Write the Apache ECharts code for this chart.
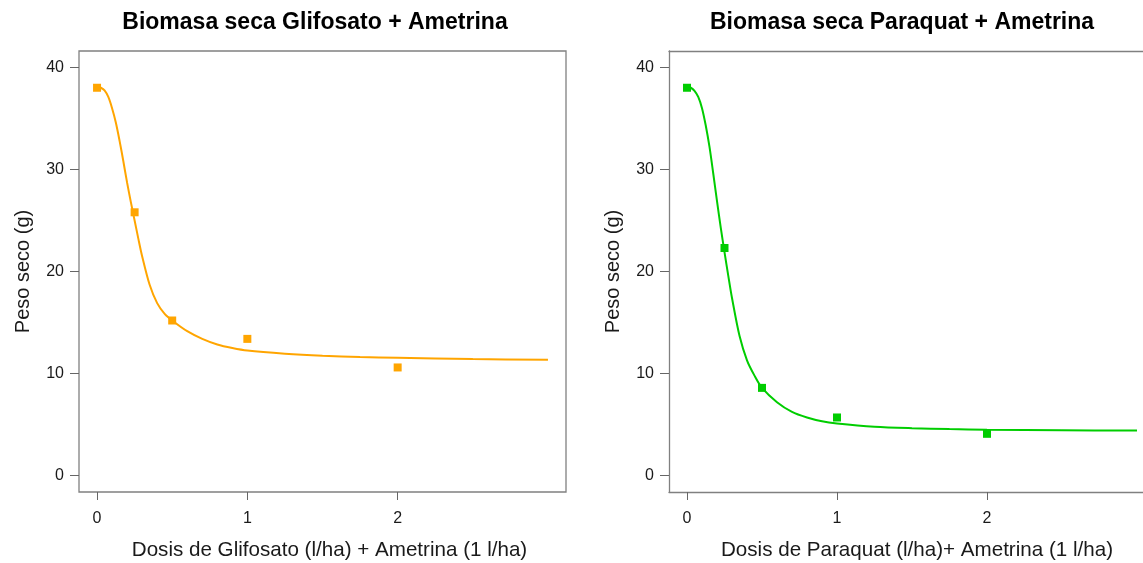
<!DOCTYPE html>
<html>
<head>
<meta charset="utf-8">
<script src="https://cdn.jsdelivr.net/npm/echarts@6/dist/echarts.min.js"></script>
<style>
html,body{margin:0;padding:0;background:#fff;}
#chart{width:1143px;height:563px;}
</style>
</head>
<body>
<div id="chart"></div>
<script>
// Observed doses and dry weights
const doses = [0, 0.25, 0.5, 1, 2];
const glifosatoWeights = [38.0, 25.8, 15.2, 13.4, 10.6];
const paraquatWeights = [38.0, 22.3, 8.6, 5.7, 4.1];

// Fitted curves
const curveDoses = [0, 0.025, 0.05, 0.075, 0.1, 0.125, 0.15, 0.175, 0.2, 0.225, 0.25, 0.275, 0.3, 0.35, 0.4, 0.45, 0.5, 0.6, 0.7, 0.8, 0.9, 1.0, 1.25, 1.5, 1.75, 2.0, 2.5, 3.0];
const glifosatoCurve = [38.1, 38.0, 37.75, 37.1, 36.0, 34.6, 32.8, 30.8, 28.7, 26.8, 25.0, 23.2, 21.5, 18.7, 16.9, 15.85, 15.2, 14.15, 13.4, 12.85, 12.5, 12.25, 11.95, 11.75, 11.62, 11.55, 11.42, 11.35];
const paraquatCurve = [38.1, 38.0, 37.7, 37.1, 36.0, 34.3, 32.2, 29.6, 26.9, 24.3, 21.9, 19.6, 17.4, 13.7, 11.3, 9.8, 8.6, 7.2, 6.25, 5.7, 5.33, 5.12, 4.8, 4.65, 4.56, 4.5, 4.45, 4.42];

const xTicks = [0, 1, 2];
const yTicks = [0, 10, 20, 30, 40];

const titles = ["Biomasa seca Glifosato + Ametrina", "Biomasa seca Paraquat + Ametrina"];
const xNames = ["Dosis de Glifosato (l/ha) + Ametrina (1 l/ha)", "Dosis de Paraquat (l/ha)+ Ametrina (1 l/ha)"];
const yName = "Peso seco (g)";

const ORANGE = '#FFA500', GREEN = '#00CD00';
const FONT = '"Liberation Sans", Arial, Helvetica, sans-serif';
const TEXT = '#1a1a1a';
const BOX = {color: '#808080', width: 1.3};

const pairs = (xs, ys) => xs.map((x, i) => [x, ys[i]]);

function xAxis(idx, max, padLeft, showLine) {
  return {
    type: 'value', gridIndex: idx, min: -0.12, max: max,
    name: xNames[idx], nameLocation: 'middle', nameGap: 48,
    nameTextStyle: {fontFamily: FONT, fontSize: 20.6, color: TEXT, padding: [0, 0, 0, padLeft]},
    axisLine: {show: showLine, onZero: false, lineStyle: BOX},
    axisTick: {show: true, inside: false, length: 8, customValues: xTicks, lineStyle: {color: '#666', width: 1}},
    axisLabel: {customValues: xTicks, fontFamily: FONT, fontSize: 16, color: TEXT, margin: 19},
    splitLine: {show: false}
  };
}
function yAxis(idx, showLine) {
  return {
    type: 'value', gridIndex: idx, min: -1.6, max: 41.6,
    name: yName, nameLocation: 'middle', nameGap: 46,
    nameTextStyle: {fontFamily: FONT, fontSize: 20, color: TEXT},
    axisLine: {show: showLine, onZero: false, lineStyle: BOX},
    axisTick: {show: true, inside: false, length: 9, customValues: yTicks, lineStyle: {color: '#666', width: 1}},
    axisLabel: {customValues: yTicks, fontFamily: FONT, fontSize: 16, color: TEXT, margin: 15},
    splitLine: {show: false}
  };
}

const chart = echarts.init(document.getElementById('chart'), null, {renderer: 'canvas'});
chart.setOption({
  animation: false,
  backgroundColor: '#fff',
  title: [
    {text: titles[0], left: 315, top: 11, padding: 0, textAlign: 'center',
     textStyle: {fontFamily: FONT, fontSize: 23, fontWeight: 'bold', color: '#000'}},
    {text: titles[1], left: 902, top: 11, padding: 0, textAlign: 'center',
     textStyle: {fontFamily: FONT, fontSize: 23, fontWeight: 'bold', color: '#000'}}
  ],
  grid: [
    {left: 79, right: 577, top: 51, bottom: 71, outerBoundsMode: 'none', containLabel: false,
     show: true, borderColor: BOX.color, borderWidth: BOX.width, backgroundColor: 'transparent'},
    {left: 669, right: 0, top: 51, bottom: 71, outerBoundsMode: 'none', containLabel: false, show: false}
  ],
  xAxis: [
    xAxis(0, 3.12, 14, false),
    xAxis(1, 3.04, 22, true),
    {type: 'value', gridIndex: 1, position: 'top', min: -0.12, max: 3.04,
     axisLine: {show: true, onZero: false, lineStyle: BOX},
     axisTick: {show: false}, axisLabel: {show: false}, splitLine: {show: false}}
  ],
  yAxis: [yAxis(0, false), yAxis(1, true)],
  series: [
    {type: 'line', xAxisIndex: 0, yAxisIndex: 0, data: pairs(curveDoses, glifosatoCurve),
     showSymbol: false, smooth: 0.3, lineStyle: {color: ORANGE, width: 2}, z: 2},
    {type: 'scatter', xAxisIndex: 0, yAxisIndex: 0, data: pairs(doses, glifosatoWeights),
     symbol: 'rect', symbolSize: 8, itemStyle: {color: ORANGE, opacity: 1}, z: 3},
    {type: 'line', xAxisIndex: 1, yAxisIndex: 1, data: pairs(curveDoses, paraquatCurve),
     showSymbol: false, smooth: 0.3, lineStyle: {color: GREEN, width: 2}, z: 2},
    {type: 'scatter', xAxisIndex: 1, yAxisIndex: 1, data: pairs(doses, paraquatWeights),
     symbol: 'rect', symbolSize: 8, itemStyle: {color: GREEN, opacity: 1}, z: 3}
  ]
});
</script>
</body>
</html>
